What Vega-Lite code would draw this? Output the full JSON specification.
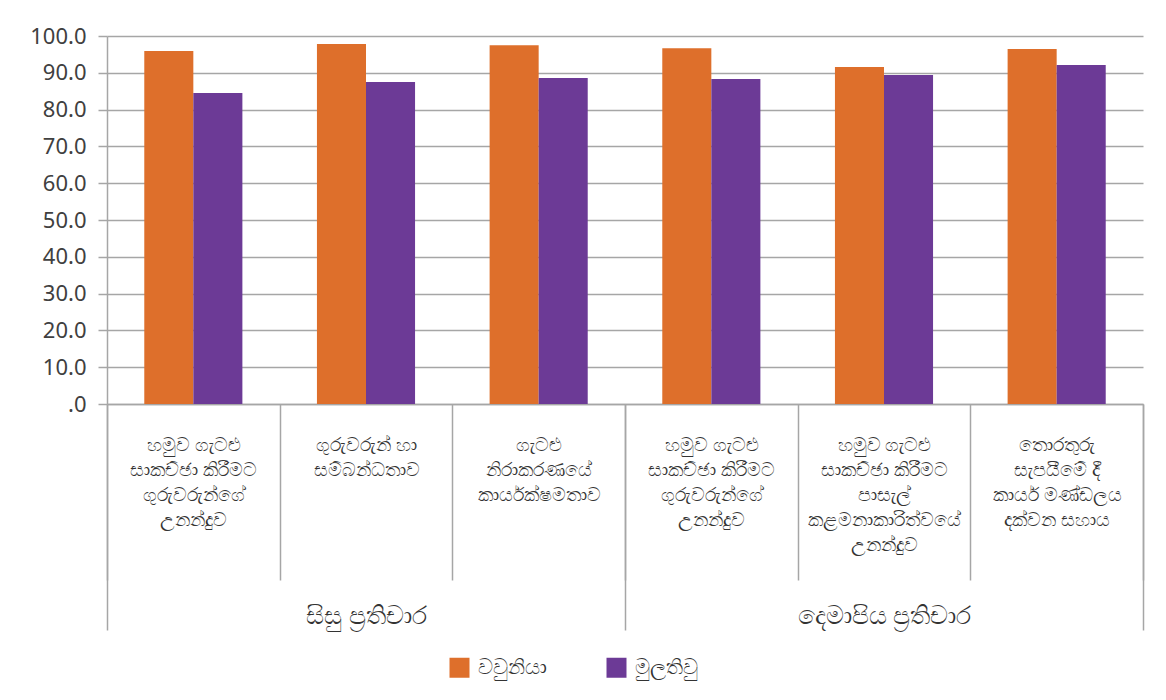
{
  "$schema": "https://vega.github.io/schema/vega-lite/v6.json",
  "width": 1036,
  "height": 368,
  "autosize": {"type": "none"},
  "padding": {"left": 107, "top": 36, "right": 23, "bottom": 296},
  "background": "white",
  "config": {"view": {"stroke": null}, "font": "Noto Sans"},
  "data": {
    "values": [
      {"key": "1|හමුව ගැටළු|සාකච්ඡා කිරීමට|ගුරුවරුන්ගේ|උනන්දුව", "group": "සිසු ප්\u200dරතිචාර", "series": "වවුනියා", "value": 95.9},
      {"key": "1|හමුව ගැටළු|සාකච්ඡා කිරීමට|ගුරුවරුන්ගේ|උනන්දුව", "group": "සිසු ප්\u200dරතිචාර", "series": "මුලතිවු", "value": 84.5},
      {"key": "2|ගුරුවරුන් හා|සම්බන්ධතාව", "group": "සිසු ප්\u200dරතිචාර", "series": "වවුනියා", "value": 97.8},
      {"key": "2|ගුරුවරුන් හා|සම්බන්ධතාව", "group": "සිසු ප්\u200dරතිචාර", "series": "මුලතිවු", "value": 87.5},
      {"key": "3|ගැටළු|නිරාකරණයේ|කාර්යක්ෂමතාව", "group": "සිසු ප්\u200dරතිචාර", "series": "වවුනියා", "value": 97.5},
      {"key": "3|ගැටළු|නිරාකරණයේ|කාර්යක්ෂමතාව", "group": "සිසු ප්\u200dරතිචාර", "series": "මුලතිවු", "value": 88.6},
      {"key": "4|හමුව ගැටළු|සාකච්ඡා කිරීමට|ගුරුවරුන්ගේ|උනන්දුව", "group": "දෙමාපිය ප්\u200dරතිචාර", "series": "වවුනියා", "value": 96.7},
      {"key": "4|හමුව ගැටළු|සාකච්ඡා කිරීමට|ගුරුවරුන්ගේ|උනන්දුව", "group": "දෙමාපිය ප්\u200dරතිචාර", "series": "මුලතිවු", "value": 88.3},
      {"key": "5|හමුව ගැටළු|සාකච්ඡා කිරීමට|පාසැල්|කළමනාකාරිත්වයේ|උනන්දුව", "group": "දෙමාපිය ප්\u200dරතිචාර", "series": "වවුනියා", "value": 91.6},
      {"key": "5|හමුව ගැටළු|සාකච්ඡා කිරීමට|පාසැල්|කළමනාකාරිත්වයේ|උනන්දුව", "group": "දෙමාපිය ප්\u200dරතිචාර", "series": "මුලතිවු", "value": 89.4},
      {"key": "6|තොරතුරු|සැපයීමේ දී|කාර්ය මණ්ඩලය|දක්වන සහාය", "group": "දෙමාපිය ප්\u200dරතිචාර", "series": "වවුනියා", "value": 96.5},
      {"key": "6|තොරතුරු|සැපයීමේ දී|කාර්ය මණ්ඩලය|දක්වන සහාය", "group": "දෙමාපිය ප්\u200dරතිචාර", "series": "මුලතිවු", "value": 92.1}
    ]
  },
  "layer": [
    {
      "mark": {"type": "bar"},
      "encoding": {
        "x": {
          "field": "key", "type": "nominal", "sort": null,
          "scale": {"paddingInner": 0, "paddingOuter": 0},
          "axis": {
            "orient": "bottom", "title": null,
            "labelExpr": "slice(split(datum.label, '|'), 1)",
            "labelAngle": 0, "labelFontSize": 19, "labelLineHeight": 25,
            "labelPadding": -145, "labelColor": "#333333", "labelLimit": 0,
            "labelOverlap": false, "labelBaseline": "top",
            "tickBand": "extent", "tickSize": 176, "tickColor": "#A6A6A6", "tickWidth": 1.5,
            "domainColor": "#A6A6A6", "domainWidth": 1.5
          }
        },
        "xOffset": {
          "field": "series", "type": "nominal", "sort": ["වවුනියා", "මුලතිවු"],
          "scale": {"paddingInner": 0, "paddingOuter": 0.76}
        },
        "y": {
          "field": "value", "type": "quantitative",
          "scale": {"domain": [0, 100]},
          "axis": {
            "title": null,
            "values": [0, 10, 20, 30, 40, 50, 60, 70, 80, 90, 100],
            "labelExpr": "datum.value == 0 ? '.0' : format(datum.value, '.1f')",
            "labelFontSize": 22, "labelColor": "#404040", "labelPadding": 12,
            "tickSize": 9, "tickColor": "#A6A6A6", "tickWidth": 1.5,
            "gridColor": "#A6A6A6", "gridWidth": 1.6,
            "domain": true, "domainColor": "#A6A6A6", "domainWidth": 1.5
          }
        },
        "color": {
          "field": "series", "type": "nominal",
          "scale": {"domain": ["වවුනියා", "මුලතිවු"], "range": ["#DE6F2B", "#6C3A96"]},
          "legend": {
            "title": null, "orient": "none", "direction": "horizontal",
            "legendX": 342, "legendY": 621, "padding": 0,
            "symbolType": "square", "symbolSize": 400, "symbolStrokeWidth": 0, "symbolOpacity": 1,
            "labelFontSize": 21, "labelColor": "#333333", "labelOffset": 8,
            "columnPadding": 59
          }
        }
      }
    },
    {
      "mark": {"type": "rule", "opacity": 0},
      "encoding": {
        "x": {
          "field": "group", "type": "nominal", "sort": null,
          "scale": {"type": "band", "paddingInner": 0, "paddingOuter": 0},
          "axis": {
            "orient": "bottom", "title": null, "domain": false,
            "labelAngle": 0, "labelFontSize": 25, "labelColor": "#333333",
            "labelPadding": -27, "labelBaseline": "top", "labelLimit": 0,
            "tickBand": "extent", "tickSize": 226, "tickColor": "#A6A6A6", "tickWidth": 1.5
          }
        }
      }
    }
  ],
  "resolve": {"scale": {"x": "independent"}}
}
